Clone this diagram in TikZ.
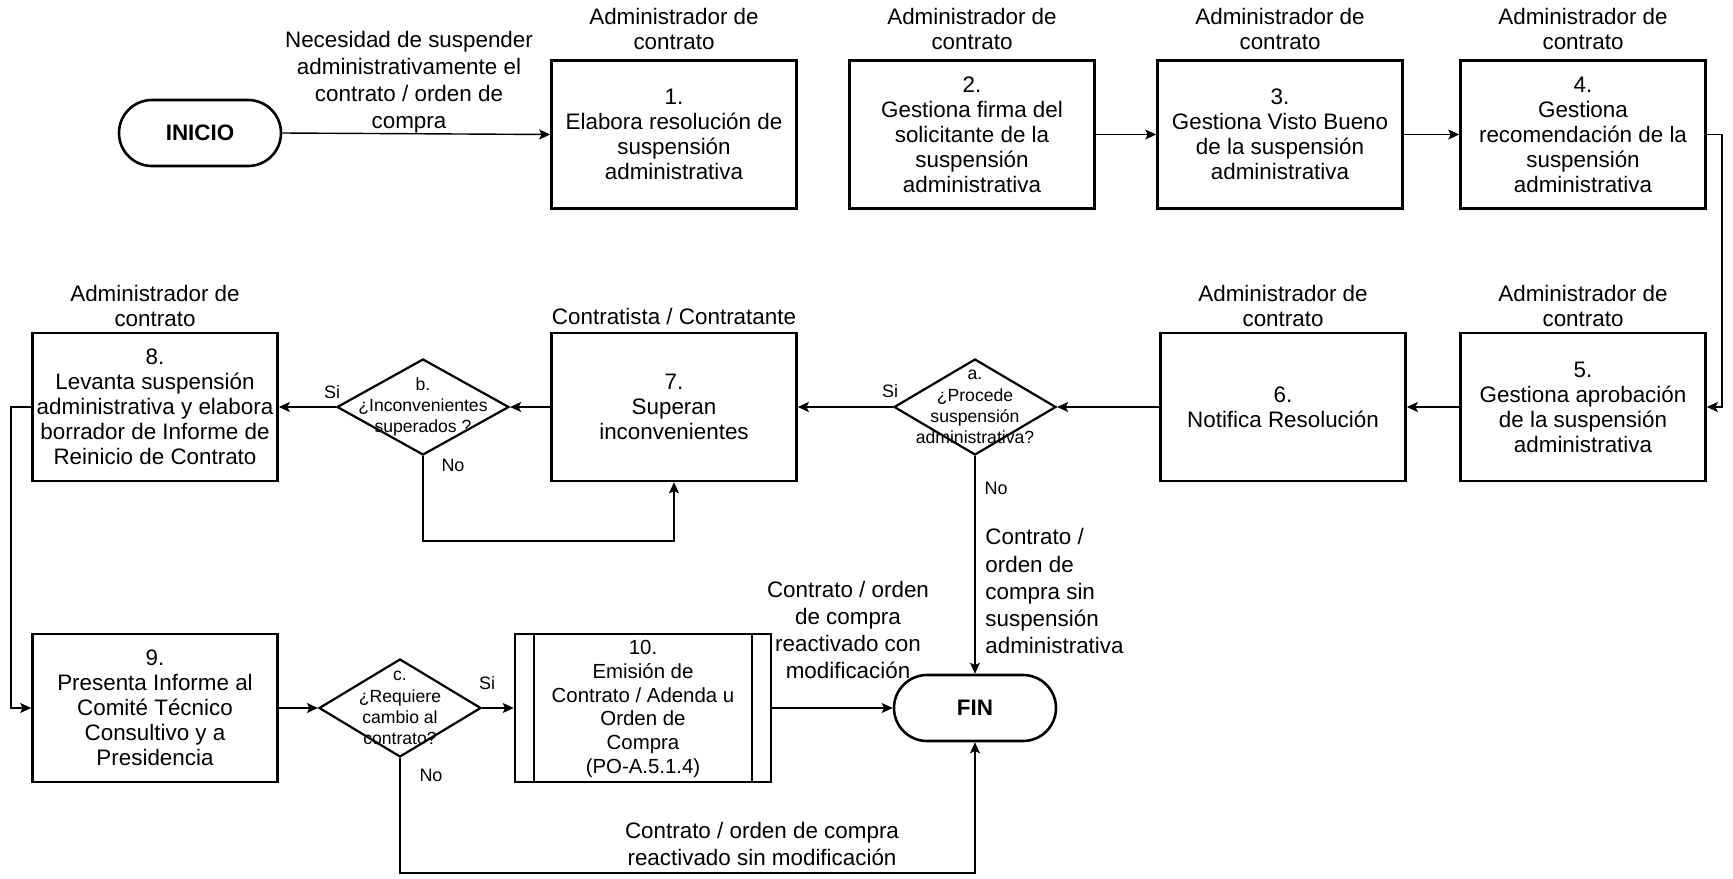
\documentclass[tikz,border=0pt]{standalone}
\usepackage{fontspec}
\setmainfont{Liberation Sans}
\usetikzlibrary{shapes.geometric,shapes.misc,arrows.meta}
\newcommand{\fmain}{\fontsize{11.2}{12.5}\selectfont}
\newcommand{\fside}{\fontsize{11.2}{13.6}\selectfont}
\newcommand{\fdec}{\fontsize{8.8}{10.6}\selectfont}
\newcommand{\fsub}{\fontsize{10.2}{11.9}\selectfont}
\newcommand{\fyn}{\fontsize{9}{10}\selectfont}
\tikzset{
  stepbox/.style={draw, line width=1.3pt, minimum width=122.5pt, minimum height=74pt, align=center, inner sep=1pt, font=\fmain},
  subbox/.style={draw, line width=1.3pt, minimum width=128pt, minimum height=74pt, inner sep=0pt},
  subtext/.style={align=center, inner sep=0pt, font=\fsub},
  decbox/.style={diamond, draw, line width=1.1pt, inner sep=0pt},
  dectext/.style={align=center, inner sep=0pt, font=\fdec},
  termbox/.style={rounded rectangle, draw, line width=1.3pt, minimum width=81pt, minimum height=33pt, inner sep=0pt, font=\fmain\bfseries},
  lbl/.style={align=center, anchor=south, inner sep=0pt, text depth=0pt, font=\fmain},
  sidelbl/.style={align=center, anchor=south, inner sep=0pt, text depth=0pt, font=\fside},
  yn/.style={inner sep=0pt, font=\fyn},
  arr/.style={-{Stealth[length=5.5pt,width=5pt,inset=1.2pt]}, line width=0.7pt},
}
\begin{document}
\begin{tikzpicture}[x=0.5pt,y=-0.5pt]
\path[use as bounding box] (0,0) rectangle (1733,878);

% row 1
\node[termbox] (ini) at (200,133) {INICIO};
\node[stepbox] (b1) at (674,134.5) {1.\\Elabora resolución de\\suspensión\\administrativa};
\node[stepbox] (b2) at (972,134.5) {2.\\Gestiona firma del\\solicitante de la\\suspensión\\administrativa};
\node[stepbox] (b3) at (1280,134.5) {3.\\Gestiona Visto Bueno\\de la suspensión\\administrativa};
\node[stepbox] (b4) at (1583,134.5) {4.\\Gestiona\\recomendación de la\\suspensión\\administrativa};

\node[lbl] (l1) at (674,50) {Administrador de\\contrato};
\node[lbl] (l2) at (972,50) {Administrador de\\contrato};
\node[lbl] (l3) at (1280,50) {Administrador de\\contrato};
\node[lbl] (l4) at (1583,50) {Administrador de\\contrato};
\node[sidelbl] (need) at (409,129) {Necesidad de suspender\\administrativamente el\\contrato / orden de\\compra};

% row 2
\node[stepbox] (b8) at (155,407) {8.\\Levanta suspensión\\administrativa y elabora\\borrador de Informe de\\Reinicio de Contrato};
\node[decbox, minimum width=86pt, minimum height=48pt] (dB) at (423,407) {};
\node[dectext] (tB) at (dB) {b.\\¿Inconvenientes\\superados ?};
\node[stepbox] (b7) at (674,407) {7.\\Superan\\inconvenientes};
\node[decbox, minimum width=81pt, minimum height=48pt] (dA) at (975,407) {};
\node[dectext] (tA) at (dA) {a.\\¿Procede\\suspensión\\administrativa?};
\node[stepbox] (b6) at (1283,407) {6.\\Notifica Resolución};
\node[stepbox] (b5) at (1583,407) {5.\\Gestiona aprobación\\de la suspensión\\administrativa};

\node[lbl] (l8) at (155,327) {Administrador de\\contrato};
\node[lbl] (l7) at (674,325) {Contratista / Contratante};
\node[lbl] (l6) at (1283,327) {Administrador de\\contrato};
\node[lbl] (l5) at (1583,327) {Administrador de\\contrato};

% row 3
\node[stepbox] (b9) at (155,708) {9.\\Presenta Informe al\\Comité Técnico\\Consultivo y a\\Presidencia};
\node[decbox, minimum width=81pt, minimum height=49pt] (dC) at (400,708) {};
\node[dectext] (tC) at (dC) {c.\\¿Requiere\\cambio al\\contrato?};
\node[subbox] (b10) at (643,708) {};
\node[subtext] (t10) at (643,709) {10.\\Emisión de\\Contrato / Adenda u\\Orden de\\Compra\\(PO-A.5.1.4)};
\draw[line width=1.1pt] ([xshift=10pt]b10.north west) -- ([xshift=10pt]b10.south west);
\draw[line width=1.1pt] ([xshift=-10pt]b10.north east) -- ([xshift=-10pt]b10.south east);
\node[termbox] (fin) at (975,708) {FIN};

% side labels
\node[yn] (sB) at (332,392) {Si};
\node[yn] (nB) at (453,465) {No};
\node[yn] (sA) at (890,391) {Si};
\node[yn] (nA) at (996,488) {No};
\node[yn] (sC) at (487,683) {Si};
\node[yn] (nC) at (431,775) {No};

\node[align=left, anchor=south west, inner sep=0pt, text depth=0pt, font=\fside] (tNo) at (985,654) {Contrato /\\orden de\\compra sin\\suspensión\\administrativa};
\node[sidelbl] (tMod) at (848,679) {Contrato / orden\\de compra\\reactivado con\\modificación};
\node[sidelbl] (tSin) at (762,866) {Contrato / orden de compra\\reactivado sin modificación};

% helper coordinates
\coordinate (rx) at (1722,0);
\coordinate (lx) at (11,0);
\coordinate (yb) at (0,541);
\coordinate (yc) at (0,873);

% connectors
\draw[arr] (ini.east) -- (b1.west);
\draw[arr] (b2.east) -- (b3.west);
\draw[arr] (b3.east) -- (b4.west);
\draw[arr] (b4.east) -- (b4.east -| rx) |- (b5.east);
\draw[arr] (b5.west) -- (b6.east);
\draw[arr] (b6.west) -- (dA.east);
\draw[arr] (dA.west) -- (b7.east);
\draw[arr] (b7.west) -- (dB.east);
\draw[arr] (dB.west) -- (b8.east);
\draw[arr] (dB.south) |- (yb -| b7.south) -- (b7.south);
\draw[arr] (b8.west) -- (b8.west -| lx) |- (b9.west);
\draw[arr] (b9.east) -- (dC.west);
\draw[arr] (dC.east) -- (b10.west);
\draw[arr] (b10.east) -- (fin.west);
\draw[arr] (dA.south) -- (fin.north);
\draw[arr] (dC.south) |- (yc -| fin.south) -- (fin.south);
\end{tikzpicture}
\end{document}
